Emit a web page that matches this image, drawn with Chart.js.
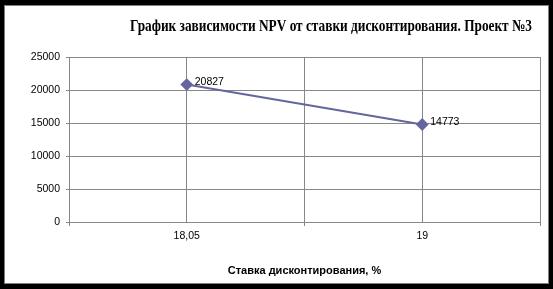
<!DOCTYPE html>
<html>
<head>
<meta charset="utf-8">
<script src="https://cdn.jsdelivr.net/npm/chart.js@4/dist/chart.umd.min.js"></script>
<style>
  html, body { margin: 0; padding: 0; background: #000; }
  #wrap { width: 553px; height: 289px; position: relative; }
  canvas { display: block; }
</style>
</head>
<body>
<div id="wrap"><canvas id="c" width="553" height="289"></canvas></div>
<script>
// ---- data ----
const chartTitle = 'График зависимости NPV от ставки дисконтирования. Проект №3';
const xAxisTitle = 'Ставка дисконтирования, %';
const categories = ['18,05', '19'];
const npvValues = [20827, 14773];
const yTicks = [0, 5000, 10000, 15000, 20000, 25000];

// category i sits at the middle of its band on a 0..2n axis
const points = npvValues.map((v, i) => ({ x: 2 * i + 1, y: v }));

const GRID = '#878787';
const LINE = '#65659f';

const framePlugin = {
  id: 'frame',
  beforeDraw(chart) {
    const ctx = chart.ctx;
    ctx.save();
    ctx.fillStyle = '#000';
    ctx.fillRect(0, 0, chart.width, chart.height);
    ctx.fillStyle = '#7f7f7f';
    ctx.fillRect(4, 5, 545, 279);
    ctx.fillStyle = '#fff';
    ctx.fillRect(5, 6, 543, 277);
    ctx.restore();
  }
};

// condensed serif title (the original uses a narrow bold serif face)
const condensedTitle = {
  id: 'condensedTitle',
  afterDraw(chart) {
    const ctx = chart.ctx;
    ctx.save();
    ctx.font = 'bold 17px "Liberation Serif", "Times New Roman", serif';
    ctx.fillStyle = '#000';
    ctx.textAlign = 'left';
    ctx.textBaseline = 'alphabetic';
    const w = ctx.measureText(chartTitle).width;
    const left = 130, right = 532;
    ctx.translate(left, 31);
    ctx.scale((right - left) / w, 1);
    ctx.fillText(chartTitle, 0, 0);
    ctx.restore();
  }
};

const valueLabels = {
  id: 'valueLabels',
  afterDatasetsDraw(chart) {
    const ctx = chart.ctx;
    const meta = chart.getDatasetMeta(0);
    ctx.save();
    ctx.font = '10.5px "Liberation Sans", Arial, sans-serif';
    ctx.fillStyle = '#000';
    ctx.textAlign = 'left';
    ctx.textBaseline = 'middle';
    meta.data.forEach((el, i) => {
      ctx.fillText(String(npvValues[i]), el.x + 8, el.y - 2);
    });
    ctx.restore();
  }
};

new Chart(document.getElementById('c'), {
  type: 'line',
  data: {
    datasets: [{
      data: points,
      borderColor: LINE,
      backgroundColor: LINE,
      borderWidth: 2,
      pointStyle: 'rectRot',
      pointRadius: 5,
      pointHoverRadius: 5,
      pointBackgroundColor: LINE,
      pointBorderColor: LINE,
      tension: 0,
      fill: false
    }]
  },
  options: {
    responsive: false,
    animation: false,
    events: [],
    layout: { padding: { left: 5, right: 13, top: 57, bottom: 0 } },
    plugins: {
      legend: { display: false },
      tooltip: { enabled: false },
      title: { display: false }
    },
    scales: {
      x: {
        type: 'linear',
        min: 0,
        max: categories.length * 2,
        afterFit(s) { s.height = 67; },
        afterBuildTicks(s) {
          s.ticks = [];
          for (let v = 0; v <= categories.length * 2; v++) s.ticks.push({ value: v });
        },
        ticks: {
          autoSkip: false,
          maxRotation: 0,
          padding: 4,
          color: '#000',
          font: { family: '"Liberation Sans", Arial, sans-serif', size: 10.5 },
          callback(v) { return v % 2 === 1 ? categories[(v - 1) / 2] : ''; }
        },
        grid: {
          color: GRID,
          lineWidth: 1,
          tickLength: 4,
          tickColor(ctx) { return ctx.tick && ctx.tick.value % 2 === 1 ? 'rgba(0,0,0,0)' : GRID; }
        },
        border: { color: GRID },
        title: {
          display: true,
          text: xAxisTitle,
          color: '#000',
          font: { family: '"Liberation Sans", Arial, sans-serif', size: 11, weight: 'bold' },
          padding: { top: 0, bottom: 11 }
        }
      },
      y: {
        min: 0,
        max: 25000,
        afterFit(s) { s.width = 64; },
        afterBuildTicks(s) { s.ticks = yTicks.map(v => ({ value: v })); },
        ticks: {
          padding: 6,
          color: '#000',
          font: { family: '"Liberation Sans", Arial, sans-serif', size: 10.5 },
          callback(v) { return String(v); }
        },
        grid: { color: GRID, lineWidth: 1, tickLength: 3 },
        border: { color: GRID }
      }
    }
  },
  plugins: [framePlugin, condensedTitle, valueLabels]
});
</script>
</body>
</html>
